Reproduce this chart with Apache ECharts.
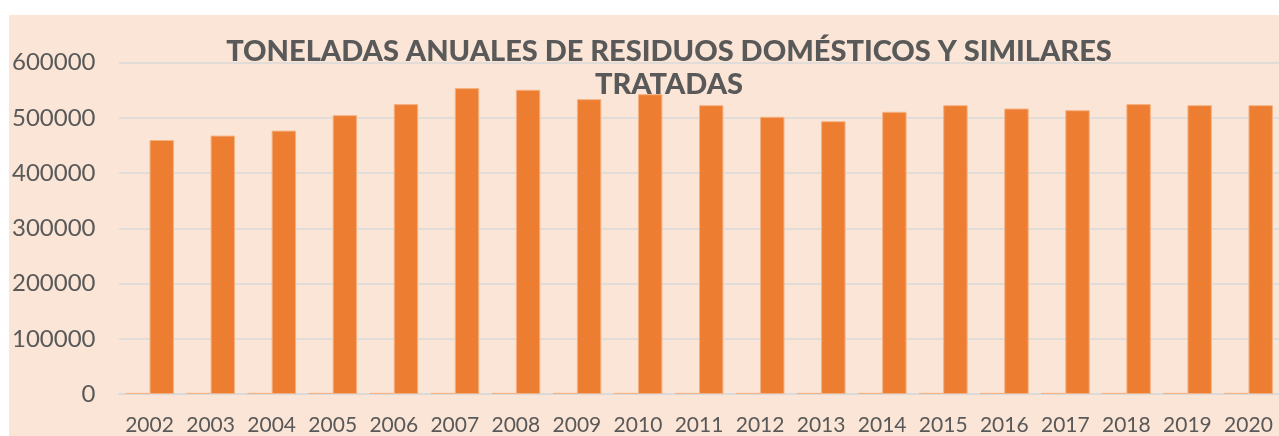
<!DOCTYPE html>
<html>
<head>
<meta charset="utf-8">
<script src="https://cdn.jsdelivr.net/npm/echarts@6/dist/echarts.min.js"></script>
<style>
  html, body { margin: 0; padding: 0; background: #ffffff; width: 1279px; height: 436px; overflow: hidden; }
  #chart { position: absolute; left: 9px; top: 15px; width: 1270px; height: 421px; }
</style>
</head>
<body>
<div id="chart"></div>
<script>
const categories = ['2002','2003','2004','2005','2006','2007','2008','2009','2010','2011','2012','2013','2014','2015','2016','2017','2018','2019','2020'];
const yearValues = [2002,2003,2004,2005,2006,2007,2008,2009,2010,2011,2012,2013,2014,2015,2016,2017,2018,2019,2020];
const tonnes = [460000,468000,477000,505000,525000,554000,551000,534000,543000,523000,502000,494000,511000,523000,517000,514000,525000,523000,523000];
const yTicks = [0,100000,200000,300000,400000,500000,600000];
const titleText = 'TONELADAS ANUALES DE RESIDUOS DOMÉSTICOS Y SIMILARES\nTRATADAS';

const chart = echarts.init(document.getElementById('chart'));
const barStyle = { color: '#ED7D31', borderColor: '#F4B183', borderWidth: 1 };
chart.setOption({
  backgroundColor: '#FBE5D6',
  animation: false,
  title: {
    text: titleText,
    left: 660,
    top: 20,
    textAlign: 'center',
    padding: 0,
    textStyle: { fontFamily: 'Lato', fontWeight: 900, fontSize: 29, color: '#595959', lineHeight: 33, align: 'center' }
  },
  grid: { left: 107.5, top: 47.7, width: 1167.7, bottom: 40.7 },
  xAxis: {
    type: 'category',
    data: categories,
    axisLine: { lineStyle: { color: '#D9D9D9', width: 1.5 } },
    axisTick: { show: false },
    axisLabel: { color: '#595959', fontFamily: 'Lato', fontSize: 21, margin: 21, interval: 0, hideOverlap: false }
  },
  yAxis: {
    type: 'value',
    min: yTicks[0],
    max: yTicks[yTicks.length - 1],
    interval: 100000,
    axisLine: { show: false },
    axisTick: { show: false },
    splitLine: { lineStyle: { color: '#D9D9D9', width: 1.5 } },
    axisLabel: { color: '#595959', fontFamily: 'Lato', fontSize: 24, margin: 23.5, formatter: function (v) { return String(v); } }
  },
  series: [
    { type: 'bar', name: 'Año', data: yearValues, barGap: '0%', barCategoryGap: '20%', itemStyle: barStyle },
    { type: 'bar', name: 'Toneladas', data: tonnes, barGap: '0%', barCategoryGap: '20%', itemStyle: barStyle }
  ]
});
</script>
</body>
</html>
